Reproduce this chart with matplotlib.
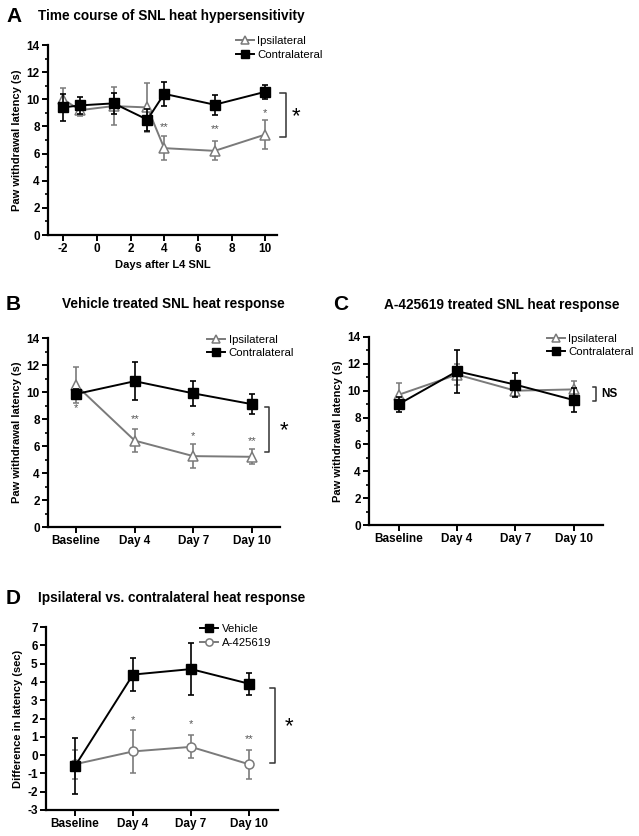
import matplotlib
matplotlib.use("Agg")
import matplotlib.pyplot as plt
from matplotlib.ticker import MultipleLocator
import numpy as np

plt.rcParams["font.family"] = ["Liberation Sans", "DejaVu Sans"]
plt.rcParams["axes.unicode_minus"] = False

GRAY = "#7a7a7a"
STAR = "#555555"

# Panel A: time course
days_a = [-2, -1, 1, 3, 4, 7, 10]
ipsi_a = [10.0, 9.2, 9.5, 9.4, 6.4, 6.2, 7.4]
ipsi_a_err = [0.85, 0.45, 1.4, 1.8, 0.9, 0.7, 1.05]
contra_a = [9.4, 9.55, 9.7, 8.5, 10.4, 9.6, 10.55]
contra_a_err = [1.0, 0.65, 0.8, 0.8, 0.9, 0.75, 0.5]
stars_a = [(4, 7.6, "**"), (7, 7.4, "**"), (10, 8.65, "*")]

# Panels B-D: categorical days
cats = ["Baseline", "Day 4", "Day 7", "Day 10"]

ipsi_b = [10.5, 6.4, 5.25, 5.2]
ipsi_b_err = [1.35, 0.85, 0.9, 0.55]
contra_b = [9.85, 10.8, 9.9, 9.1]
contra_b_err = [0.4, 1.4, 0.9, 0.75]
stars_b = [(0, 9.15, "*"), (1, 7.6, "**"), (2, 6.4, "*"), (3, 6.0, "**")]

ipsi_c = [9.7, 11.2, 10.0, 10.1]
ipsi_c_err = [0.85, 0.8, 0.4, 0.65]
contra_c = [9.0, 11.45, 10.45, 9.3]
contra_c_err = [0.55, 1.6, 0.9, 0.9]

veh_d = [-0.6, 4.4, 4.7, 3.9]
veh_d_err = [1.55, 0.88, 1.4, 0.6]
drug_d = [-0.5, 0.2, 0.45, -0.5]
drug_d_err = [0.8, 1.18, 0.63, 0.78]
stars_d = [(1, 1.65, "*"), (2, 1.4, "*"), (3, 0.6, "**")]

fig = plt.figure(figsize=(6.39, 8.36), dpi=100)
W, H = 639, 836
LBL = 8


def px_axes(left, top, right, bottom):
    return fig.add_axes([left / W, 1 - bottom / H, (right - left) / W, (bottom - top) / H])


def style(ax):
    for s in ("top", "right"):
        ax.spines[s].set_visible(False)
    for s in ("left", "bottom"):
        ax.spines[s].set_linewidth(1.6)
    ax.tick_params(which="major", direction="out", length=4, width=1.4,
                   labelsize=8.5, pad=2)
    ax.tick_params(which="minor", direction="out", length=2.5, width=1.2)
    for lab in ax.get_xticklabels() + ax.get_yticklabels():
        lab.set_fontweight("bold")


def series(ax, x, y, e, kind):
    if kind == "ipsi":
        kw = dict(color=GRAY, marker="^", mfc="white", mec=GRAY, ms=7, mew=1.1)
    elif kind == "drug":
        kw = dict(color=GRAY, marker="o", mfc="white", mec=GRAY, ms=6.5, mew=1.1)
    else:
        kw = dict(color="black", marker="s", mfc="black", mec="black", ms=6.5)
    c = ax.errorbar(x, y, yerr=e, lw=1.4, elinewidth=1.2, capsize=2.5, capthick=1.2,
                    zorder=3 if kind == "contra" else 2, **kw)
    return c[0]


def bracket(ax, x, arm, y0, y1, text, tx, ty, size):
    ax.plot([x - arm, x, x, x - arm], [y1, y1, y0, y0],
            color="#333333", lw=1.1, clip_on=False)
    ax.text(tx, ty, text, ha="left", va="center", fontsize=size,
            fontweight="bold" if text == "NS" else "normal", clip_on=False)


def legend(ax, handles, labels, anchor):
    ax.legend(handles, labels, loc="upper right", bbox_to_anchor=anchor, frameon=False,
              fontsize=8.2, handlelength=1.6, handletextpad=0.3, markerscale=0.8,
              labelspacing=0.3, borderaxespad=0)


def titles(letter, title, lx, ty, tx):
    fig.text(lx / W, 1 - ty / H, letter, fontsize=15, fontweight="bold", va="center")
    fig.text(tx / W, 1 - ty / H, title, fontsize=9.8, fontweight="bold", va="center")


# ---- Panel A
axA = px_axes(48, 45, 277, 235)
h1 = series(axA, days_a, ipsi_a, ipsi_a_err, "ipsi")
h2 = series(axA, days_a, contra_a, contra_a_err, "contra")
axA.set_xlim(-2.9, 10.7)
axA.set_ylim(0, 14)
axA.set_xticks([-2, 0, 2, 4, 6, 8, 10])
axA.yaxis.set_major_locator(MultipleLocator(2))
axA.yaxis.set_minor_locator(MultipleLocator(1))
axA.set_ylabel("Paw withdrawal latency (s)", fontsize=LBL, fontweight="bold", labelpad=3)
axA.set_xlabel("Days after L4 SNL", fontsize=LBL, fontweight="bold", labelpad=3)
for x, y, s in stars_a:
    axA.text(x, y, s, ha="center", va="bottom", fontsize=8, color=STAR)
bracket(axA, 11.25, 0.35, 7.2, 10.45, "*", 11.6, 8.7, 16)
legend(axA, [h1, h2], ["Ipsilateral", "Contralateral"], (1.22, 1.07))
style(axA)
titles("A", "Time course of SNL heat hypersensitivity", 6, 16, 38)

# ---- Panel B
axB = px_axes(48, 338, 280, 527)
xb = np.arange(len(cats))
h1 = series(axB, xb, ipsi_b, ipsi_b_err, "ipsi")
h2 = series(axB, xb, contra_b, contra_b_err, "contra")
axB.set_xlim(-0.48, 3.48)
axB.set_ylim(0, 14)
axB.set_xticks(xb, cats)
axB.yaxis.set_major_locator(MultipleLocator(2))
axB.yaxis.set_minor_locator(MultipleLocator(1))
axB.set_ylabel("Paw withdrawal latency (s)", fontsize=LBL, fontweight="bold", labelpad=3)
for x, y, s in stars_b:
    axB.text(x, y, s, ha="center", va="bottom" if x else "top", fontsize=8, color=STAR)
bracket(axB, 3.3, 0.07, 5.55, 8.9, "*", 3.48, 7.1, 16)
legend(axB, [h1, h2], ["Ipsilateral", "Contralateral"], (1.08, 1.04))
style(axB)
titles("B", "Vehicle treated SNL heat response", 6, 304, 62)

# ---- Panel C
axC = px_axes(369, 337, 603, 525)
h1 = series(axC, xb, ipsi_c, ipsi_c_err, "ipsi")
h2 = series(axC, xb, contra_c, contra_c_err, "contra")
axC.set_xlim(-0.51, 3.5)
axC.set_ylim(0, 14)
axC.set_xticks(xb, cats)
axC.yaxis.set_major_locator(MultipleLocator(2))
axC.yaxis.set_minor_locator(MultipleLocator(1))
axC.set_ylabel("Paw withdrawal latency (s)", fontsize=LBL, fontweight="bold", labelpad=3)
bracket(axC, 3.38, 0.05, 9.2, 10.3, "NS", 3.47, 9.75, 8.5)
legend(axC, [h1, h2], ["Ipsilateral", "Contralateral"], (1.15, 1.04))
style(axC)
titles("C", "A-425619 treated SNL heat response", 333, 305, 384)

# ---- Panel D
axD = px_axes(46, 627, 278, 810)
h1 = series(axD, xb, veh_d, veh_d_err, "contra")
h2 = series(axD, xb, drug_d, drug_d_err, "drug")
axD.set_xlim(-0.5, 3.5)
axD.set_ylim(-3, 7)
axD.set_xticks(xb, cats)
axD.yaxis.set_major_locator(MultipleLocator(1))
axD.set_ylabel("Difference in latency (sec)", fontsize=LBL, fontweight="bold", labelpad=3)
for x, y, s in stars_d:
    axD.text(x, y, s, ha="center", va="bottom", fontsize=8, color=STAR)
bracket(axD, 3.45, 0.08, -0.45, 3.65, "*", 3.62, 1.55, 16)
legend(axD, [h1, h2], ["Vehicle", "A-425619"], (0.99, 1.04))
style(axD)
titles("D", "Ipsilateral vs. contralateral heat response", 6, 598, 38)

fig.savefig("out.png", dpi=100)
